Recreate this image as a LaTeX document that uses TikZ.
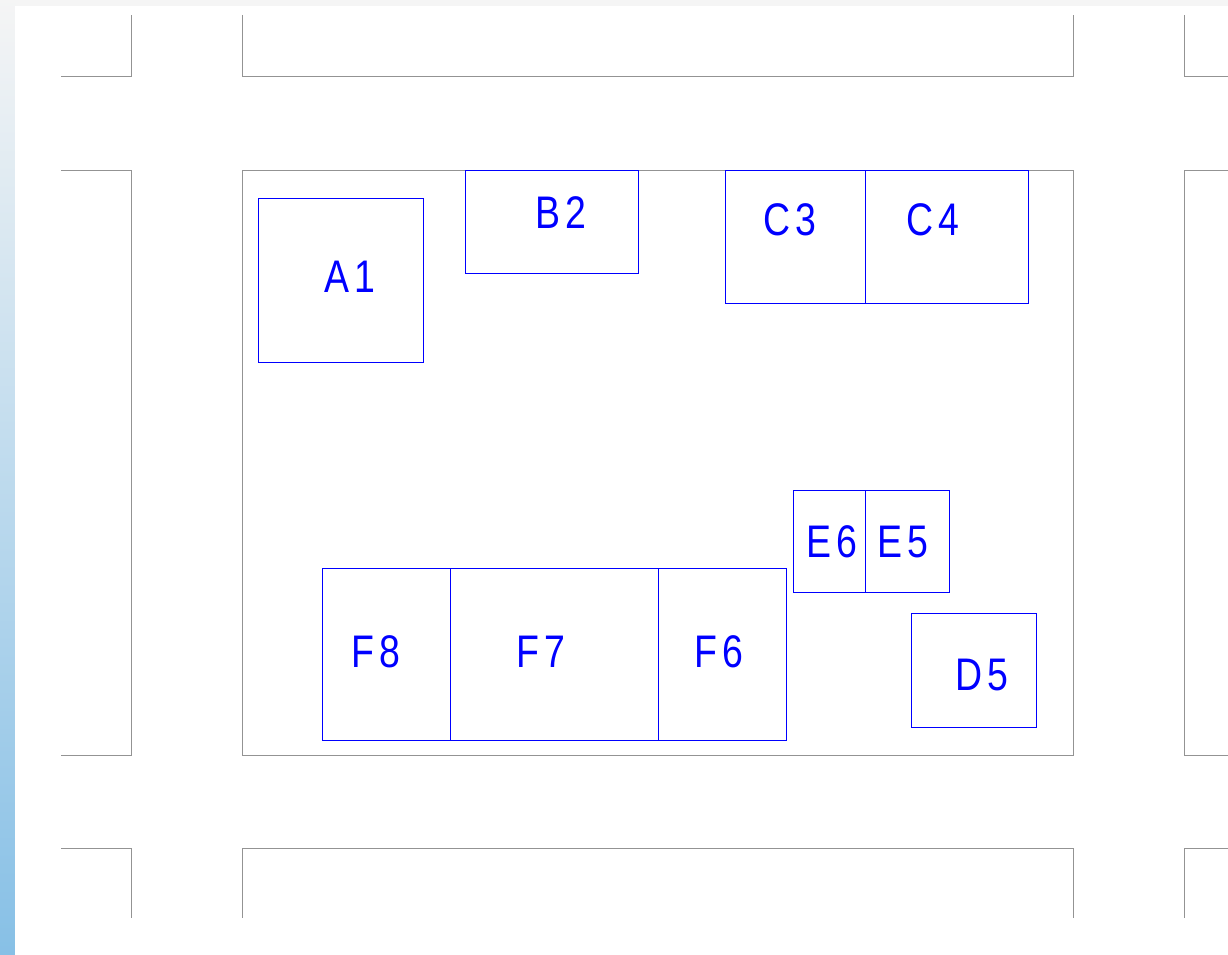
\documentclass[tikz,border=0pt]{standalone}
\usepackage{fontspec}
\newfontfamily\boxfont[FakeStretch=0.82,LetterSpace=10]{Liberation Sans}
\usetikzlibrary{positioning}

\begin{document}
\begin{tikzpicture}[x=0.02cm,y=-0.02cm,
  grid/.style={draw=gray!85,line width=0.5pt},
  bay/.style={draw=blue,line width=0.45pt},
  lbl/.style={text=blue,inner sep=0pt,font=\boxfont\fontsize{26}{26}\selectfont}]
  \useasboundingbox (0,0) rectangle (1228,955);
  % backdrop
  \fill[gray!8] (0,0) rectangle (1228,955);
  \shade[top color=gray!8,bottom color={rgb,255:red,135;green,192;blue,230}] (0,0) rectangle (15,955);
  \fill[white] (15,6) rectangle (1228,955);
  % top row
  \draw[grid] (61,76) -- (131,76) -- (131,15);
  \draw[grid] (242,15) -- (242,76) -- (1073,76) -- (1073,15);
  \draw[grid] (1228,76) -- (1184,76) -- (1184,15);
  % middle row
  \draw[grid] (61,170) -- (131,170) -- (131,755) -- (61,755);
  \draw[grid] (242,170) rectangle (1073,755);
  \draw[grid] (1228,170) -- (1184,170) -- (1184,755) -- (1228,755);
  % bottom row
  \draw[grid] (61,848) -- (131,848) -- (131,918);
  \draw[grid] (242,918) -- (242,848) -- (1073,848) -- (1073,918);
  \draw[grid] (1228,848) -- (1184,848) -- (1184,918);
  % boxes
  \foreach \n/\xa/\ya/\xb/\yb/\lx/\ly in {
      A1/258/198/423/362/350/277,
      B2/465/170/638/273/561/213,
      C3/725/170/865/303/790/220,
      C4/865/170/1028/303/933/220,
      E6/793/490/865/592/832/542,
      E5/865/490/949/592/903/542,
      D5/911/613/1036/727/982/675,
      F8/322/568/450/740/376/652,
      F7/450/568/658/740/541/652,
      F6/658/568/786/740/719/652} {
    \draw[bay] (\xa,\ya) rectangle (\xb,\yb);
    \node[lbl] (lbl\n) at (\lx,\ly) {\n};
  }
\end{tikzpicture}
\end{document}
